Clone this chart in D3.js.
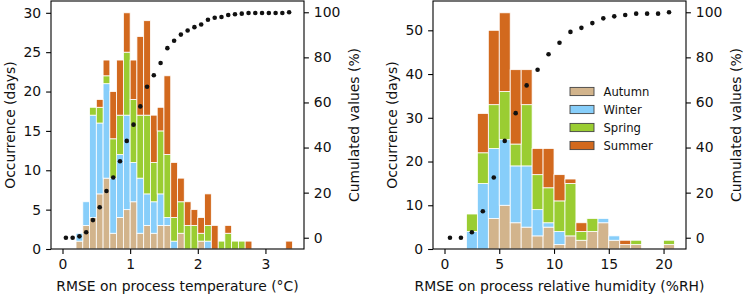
<!DOCTYPE html>
<html>
<head>
<meta charset="utf-8">
<script src="https://cdn.jsdelivr.net/npm/d3@7"></script>
<style>
  body { margin: 0; background: #fff; }
  svg { display: block; font-family: "DejaVu Sans", sans-serif; }
</style>
</head>
<body>
<svg id="chart" width="744" height="296"></svg>
<script>
// seasons and their colours
const seasons = ["Autumn", "Winter", "Spring", "Summer"];
const seasonColors = ["#D2B48C", "#87CEFA", "#9ACD32", "#D2691E"];

// temperature RMSE histogram, bins of 0.1 °C
const tempBinStart = [0.0, 0.1, 0.2, 0.3, 0.4, 0.5, 0.6, 0.7, 0.8, 0.9,
  1.0, 1.1, 1.2, 1.3, 1.4, 1.5, 1.6, 1.7, 1.8, 1.9,
  2.0, 2.1, 2.2, 2.3, 2.4, 2.5, 2.6, 2.7, 2.8, 2.9,
  3.0, 3.1, 3.2, 3.3];
const tempAutumn = [0,0,1,3,4,7,9,2,4,5, 6,2,3,2,3,3,0,2,0,0, 1,0,0,0,0,0,0,0,0,0, 0,0,0,0];
const tempWinter = [0,0,1,3,13,9,12,7,8,12, 5,7,4,4,4,1,1,0,0,0, 0,1,0,0,0,0,0,0,0,0, 0,0,0,0];
const tempSpring = [0,0,0,0,1,2,1,5,5,8, 8,8,10,5,8,8,3,4,3,3, 1,2,0,1,2,1,1,0,0,0, 0,0,0,0];
const tempSummer = [0,0,0,0,0,1,2,6,7,5, 5,10,12,6,3,10,7,3,3,2, 2,4,3,0,1,0,0,1,0,0, 0,0,0,1];

// relative humidity RMSE histogram, bins of 1 %RH
const rhBinStart = [0,1,2,3,4,5,6,7,8,9,10,11,12,13,14,15,16,17,18,19,20];
const rhAutumn = [0,0,0,0,7,10,6,5,3,5,1,3,2,4,6,2,1,1,0,0,1];
const rhWinter = [0,0,4,15,16,15,13,14,6,1,3,0,0,0,1,1,0,0,0,0,0];
const rhSpring = [0,0,4,7,10,11,5,14,8,8,7,12,2,3,0,0,0,1,0,0,1];
const rhSummer = [0,0,0,9,17,18,17,8,6,9,6,1,2,0,0,0,1,0,0,0,0];

const tempTicks = [0, 1, 2, 3];
const rhTicks = [0, 5, 10, 15, 20];
const tempCountTicks = [0, 5, 10, 15, 20, 25, 30];
const rhCountTicks = [0, 10, 20, 30, 40, 50];
const cumTicks = [0, 20, 40, 60, 80, 100];

const svg = d3.select("#chart");
const FS = 13.9;
const plotTop = 1, plotBottom = 249;

function panel(cfg) {
  const { left, width, binStart, binWidth, series, xTicks, countTicks, xLabel, legend } = cfg;
  const nb = binStart.length;
  const xMin = binStart[0], xMax = binStart[nb - 1] + binWidth;
  const pad = (xMax - xMin) * 0.05;
  const x = d3.scaleLinear().domain([xMin - pad, xMax + pad]).range([left, left + width]);

  const rows = binStart.map((b, i) => {
    const r = { start: b };
    seasons.forEach((s, k) => r[s] = series[k][i]);
    return r;
  });
  const totals = rows.map(r => d3.sum(seasons, s => r[s]));
  const maxTotal = d3.max(totals);
  const y = d3.scaleLinear().domain([0, maxTotal * 1.05]).range([plotBottom, plotTop]);
  const yc = d3.scaleLinear().domain([-5, 105]).range([plotBottom, plotTop]);

  const stacked = d3.stack().keys(seasons)(rows);
  const g = svg.append("g");

  g.selectAll("g.layer").data(stacked).join("g")
    .attr("class", "layer")
    .attr("fill", (d, i) => seasonColors[i])
    .selectAll("rect").data(d => d.filter(p => p[1] > p[0])).join("rect")
    .attr("x", d => x(d.data.start))
    .attr("width", d => x(d.data.start + binWidth) - x(d.data.start))
    .attr("y", d => y(d[1]))
    .attr("height", d => y(d[0]) - y(d[1]))
    .attr("stroke", "#fff")
    .attr("stroke-width", 0.8);

  // cumulated values
  const grand = d3.sum(totals);
  const cum = d3.cumsum(totals).map(v => v / grand * 100);
  g.selectAll("circle").data(cum).join("circle")
    .attr("cx", (d, i) => x(binStart[i] + binWidth / 2))
    .attr("cy", d => yc(d))
    .attr("r", 2.3)
    .attr("fill", "#111");

  // frame
  g.append("rect")
    .attr("x", left).attr("y", plotTop)
    .attr("width", width).attr("height", plotBottom - plotTop)
    .attr("fill", "none").attr("stroke", "#000").attr("stroke-width", 1.1);

  const styleAxis = a => {
    a.select(".domain").remove();
    a.selectAll("line").attr("stroke", "#000").attr("stroke-width", 1.1);
    a.selectAll("text").attr("font-size", FS).attr("fill", "#111")
      .attr("font-family", "DejaVu Sans, sans-serif");
  };

  g.append("g").attr("transform", `translate(0,${plotBottom})`)
    .call(d3.axisBottom(x).tickValues(xTicks).tickFormat(d3.format("d")).tickSize(4.9).tickPadding(4.9))
    .call(styleAxis);
  g.append("g").attr("transform", `translate(${left},0)`)
    .call(d3.axisLeft(y).tickValues(countTicks).tickFormat(d3.format("d")).tickSize(4.9).tickPadding(4.9))
    .call(styleAxis);
  g.append("g").attr("transform", `translate(${left + width},0)`)
    .call(d3.axisRight(yc).tickValues(cumTicks).tickFormat(d3.format("d")).tickSize(4.9).tickPadding(4.9))
    .call(styleAxis);

  g.append("text")
    .attr("x", left + width / 2).attr("y", 291)
    .attr("text-anchor", "middle").attr("font-size", FS).attr("fill", "#111")
    .text(xLabel);
  g.append("text")
    .attr("transform", `translate(${left - 36.5},${(plotTop + plotBottom) / 2}) rotate(-90)`)
    .attr("text-anchor", "middle").attr("font-size", FS).attr("fill", "#111")
    .text("Occurrence (days)");
  g.append("text")
    .attr("transform", `translate(${left + width + 55},${(plotTop + plotBottom) / 2}) rotate(-90)`)
    .attr("text-anchor", "middle").attr("font-size", FS).attr("fill", "#111")
    .text("Cumulated values (%)");

  if (legend) {
    const lg = g.append("g").attr("transform", `translate(${legend.x},${legend.y})`);
    const item = lg.selectAll("g").data(seasons).join("g")
      .attr("transform", (d, i) => `translate(0,${i * 18})`);
    item.append("rect")
      .attr("x", 0).attr("y", -4.1).attr("width", 24).attr("height", 8.2)
      .attr("fill", (d, i) => seasonColors[i])
      .attr("stroke", "#444").attr("stroke-width", 0.9);
    item.append("text")
      .attr("x", 33.5).attr("y", 0).attr("dy", "0.36em")
      .attr("font-size", 11.6).attr("fill", "#111")
      .text(d => d);
  }
}

panel({
  left: 51, width: 253,
  binStart: tempBinStart, binWidth: 0.1,
  series: [tempAutumn, tempWinter, tempSpring, tempSummer],
  xTicks: tempTicks, countTicks: tempCountTicks,
  xLabel: "RMSE on process temperature (°C)"
});

panel({
  left: 433, width: 253,
  binStart: rhBinStart, binWidth: 1,
  series: [rhAutumn, rhWinter, rhSpring, rhSummer],
  xTicks: rhTicks, countTicks: rhCountTicks,
  xLabel: "RMSE on process relative humidity (%RH)",
  legend: { x: 570, y: 91.5 }
});
</script>
</body>
</html>
